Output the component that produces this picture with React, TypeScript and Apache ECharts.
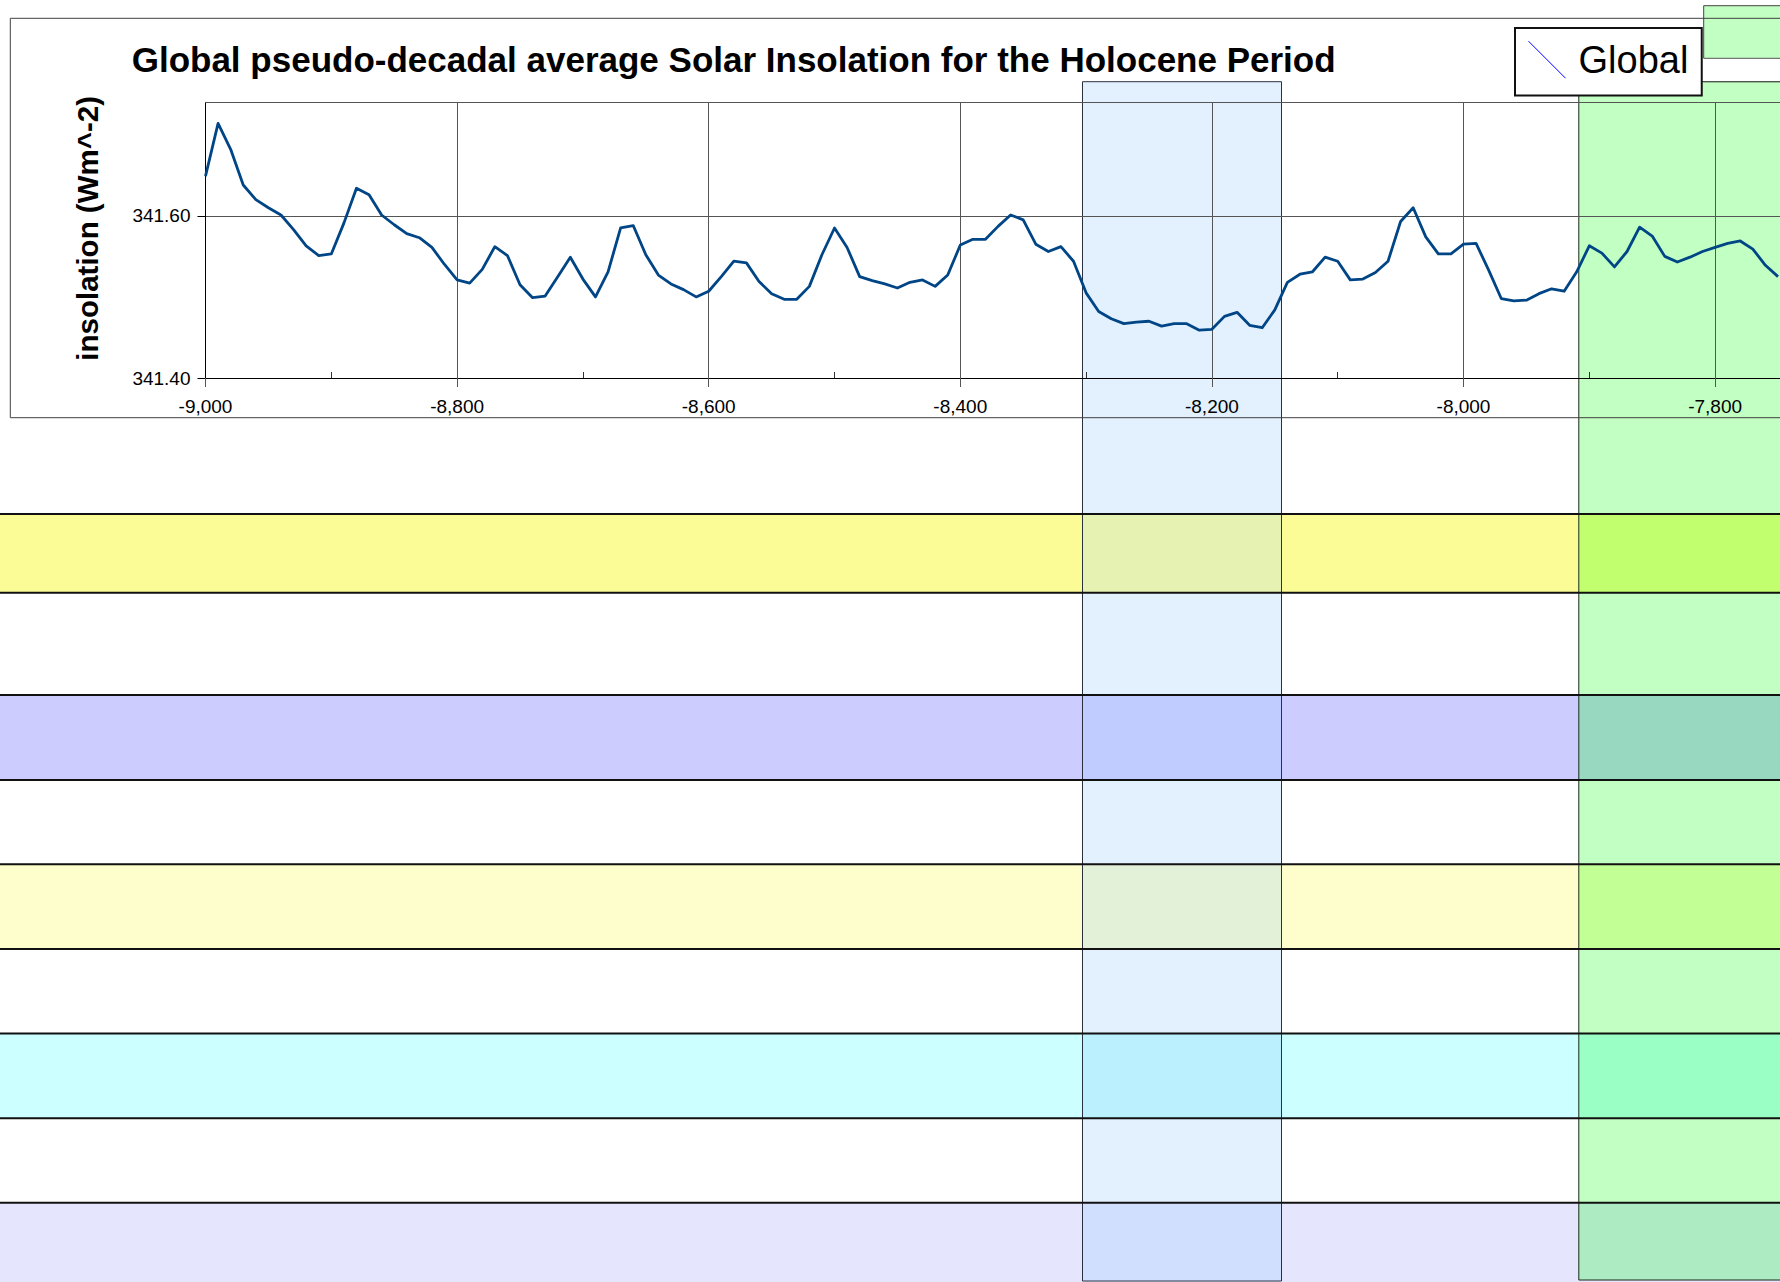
import React, { useEffect, useRef } from "react";
import * as echarts from "echarts";

// ---------- chart data ----------
const TITLE = "Global pseudo-decadal average Solar Insolation for the Holocene Period";
const Y_NAME = "insolation (Wm^-2)";
const SERIES_NAME = "Global";
const START_YEAR = -9000; // first sample (years)
const STEP_YEARS = 10; // pseudo-decadal sampling
const X_MIN = -9000;
const X_MAX = -7600;
const X_STEP = 200;
const X_MINOR_TICKS = [-8900, -8700, -8500, -8300, -8100, -7900, -7700];
const Y_MIN = 341.4;
const Y_MAX = 341.74;
const Y_STEP = 0.2;
const Y_TICKS = [341.4, 341.6];

const INSOLATION = [
  341.649, 341.714, 341.682, 341.638, 341.62, 341.61, 341.601, 341.583, 341.563, 341.551,
  341.553, 341.591, 341.634, 341.626, 341.601, 341.589, 341.578, 341.573, 341.561, 341.54,
  341.521, 341.517, 341.534, 341.562, 341.551, 341.515, 341.499, 341.501, 341.525, 341.549,
  341.522, 341.5, 341.531, 341.585, 341.588, 341.552, 341.527, 341.516, 341.509, 341.5,
  341.507, 341.525, 341.544, 341.542, 341.519, 341.504, 341.497, 341.497, 341.513, 341.552,
  341.585, 341.561, 341.525, 341.52, 341.516, 341.511, 341.518, 341.521, 341.513, 341.527,
  341.564, 341.571, 341.571, 341.587, 341.601, 341.595, 341.565, 341.556, 341.562, 341.544,
  341.505, 341.482, 341.473, 341.467, 341.469, 341.47, 341.464, 341.467, 341.467, 341.459,
  341.46, 341.476, 341.481, 341.465, 341.462, 341.484, 341.518, 341.528, 341.531, 341.549,
  341.544, 341.521, 341.522, 341.53, 341.544, 341.593, 341.61, 341.574, 341.553, 341.553,
  341.565, 341.566, 341.533, 341.498, 341.495, 341.496, 341.504, 341.51, 341.507, 341.531,
  341.563, 341.554, 341.537, 341.556, 341.586, 341.575, 341.55, 341.543, 341.549, 341.556,
  341.561, 341.566, 341.569, 341.559, 341.539, 341.525,
];

// ---------- layout / styling (spreadsheet background) ----------
const FONT = "'Liberation Sans', Arial, Helvetica, sans-serif";
const PAGE_W = 1780;
const PAGE_H = 1282;
const CHART_W = 2000; // chart canvas is wider than the page; the page clips it like the reference
const LINE_COLOR = "#004586";
const GRID_COLOR = "#555";
const GRID_LEFT = 205.5;
const GRID_TOP = 102.3;
const GRID_W = 1761.2;
const GRID_H = 275.7;

const BLUE_COL = { x0: 1082.5, x1: 1281.5, y0: 81.7, y1: 1281, fill: "#E3F1FE" };
const GREEN_COL = { x0: 1578.8, x1: 1820, y0: 81.7, y1: 1280, fill: "#C2FFC2" };
const ROW_BANDS = [
  { y0: 514, y1: 592.7, fill: "#FCFC96", blue: "#E5F2B2", green: "#C2FF6E" },
  { y0: 695, y1: 780, fill: "#CCCCFF", blue: "#C0CCFF", green: "#98D8C0" },
  { y0: 864.2, y1: 949, fill: "#FEFECC", blue: "#E3F1D8", green: "#C2FF94" },
  { y0: 1033.5, y1: 1118.2, fill: "#CCFFFF", blue: "#BBF1FE", green: "#99FFC4" },
  { y0: 1202.8, y1: 1300, fill: "#E5E5FD", blue: "#D1DFFE", green: "#ADEBC2" },
];
const ROW_LINES = [514, 592.7, 695, 780, 864.2, 949, 1033.5, 1118.2, 1202.8];

function buildBackground(): any[] {
  const els: any[] = [];
  const R = PAGE_W + 60;
  const rect = (x0: number, y0: number, x1: number, y1: number, fill: string, z: number) => ({
    type: "rect",
    silent: true,
    z,
    shape: { x: x0, y: y0, width: x1 - x0, height: y1 - y0 },
    style: { fill },
  });
  const line = (x1: number, y1: number, x2: number, y2: number, stroke: string, w: number, z: number) => ({
    type: "line",
    silent: true,
    z,
    shape: { x1, y1, x2, y2 },
    style: { stroke, lineWidth: w },
  });
  // row fills
  ROW_BANDS.forEach((r) => els.push(rect(0, r.y0, R, r.y1, r.fill, -30)));
  // columns
  els.push(rect(BLUE_COL.x0, BLUE_COL.y0, BLUE_COL.x1, BLUE_COL.y1, BLUE_COL.fill, -29));
  els.push(rect(GREEN_COL.x0, GREEN_COL.y0, GREEN_COL.x1, GREEN_COL.y1, GREEN_COL.fill, -29));
  ROW_BANDS.forEach((r) => {
    els.push(rect(BLUE_COL.x0, r.y0, BLUE_COL.x1, Math.min(r.y1, BLUE_COL.y1), r.blue, -28));
    els.push(rect(GREEN_COL.x0, r.y0, GREEN_COL.x1, Math.min(r.y1, GREEN_COL.y1), r.green, -28));
  });
  // top-right cell
  els.push(rect(1703.7, 5.7, R, 58.3, GREEN_COL.fill, -28));
  els.push(line(1703.7, 5.7, R, 5.7, "#444", 1, -25));
  els.push(line(1703.7, 5.7, 1703.7, 58.3, "#444", 1, -25));
  els.push(line(1703.7, 58.3, R, 58.3, "#555", 1, -25));
  els.push(line(1703.7, 81.7, R, 81.7, "#555", 1, -25));
  // column borders
  els.push({
    type: "rect",
    silent: true,
    z: -26,
    shape: { x: BLUE_COL.x0, y: BLUE_COL.y0, width: BLUE_COL.x1 - BLUE_COL.x0, height: BLUE_COL.y1 - BLUE_COL.y0 },
    style: { fill: "none", stroke: "#2a3040", lineWidth: 1 },
  });
  els.push({
    type: "rect",
    silent: true,
    z: -26,
    shape: { x: GREEN_COL.x0, y: GREEN_COL.y0, width: GREEN_COL.x1 - GREEN_COL.x0, height: GREEN_COL.y1 - GREEN_COL.y0 },
    style: { fill: "none", stroke: "#1a2a1a", lineWidth: 1 },
  });
  // row lines
  ROW_LINES.forEach((y) => els.push(line(0, y, R, y, "#111", 2, -24)));
  // chart frame (right side lies beyond the page)
  els.push(line(10.3, 18.3, R, 18.3, "#404040", 1, -20));
  els.push(line(10.3, 18.3, 10.3, 417.7, "#404040", 1, -20));
  els.push(line(10.3, 417.7, R, 417.7, "#404040", 1, -20));
  // y-axis title
  els.push({
    type: "text",
    silent: true,
    z: 10,
    x: 87,
    y: 228.3,
    rotation: Math.PI / 2,
    style: {
      text: Y_NAME,
      fill: "#000",
      font: `bold 29.5px ${FONT}`,
      align: "center",
      verticalAlign: "middle",
    },
  });
  return els;
}

export default function App() {
  const ref = useRef<HTMLDivElement>(null);

  useEffect(() => {
    if (!ref.current) return;
    const chart = echarts.init(ref.current, undefined, { renderer: "svg" });
    const seriesData = INSOLATION.map((v, i) => [START_YEAR + i * STEP_YEARS, v]);
    const isYTick = (v: number) => Y_TICKS.some((t) => Math.abs(t - v) < 1e-6);

    chart.setOption({
      animation: false,
      backgroundColor: "transparent",
      textStyle: { fontFamily: FONT },
      title: {
        text: TITLE,
        left: 131.7,
        top: 42,
        padding: 0,
        textStyle: { fontSize: 35, fontWeight: "bold", color: "#000", fontFamily: FONT },
      },
      legend: {
        left: 1515,
        top: 28,
        orient: "horizontal",
        padding: [12.7, 13.4, 16.8, 13],
        backgroundColor: "#fff",
        borderColor: "#111",
        borderWidth: 2,
        borderRadius: 0,
        itemWidth: 39,
        itemHeight: 37,
        icon: "path://M0,0L40,40",
        itemStyle: { color: "transparent", borderColor: "#0000ff", borderWidth: 1 },
        textStyle: { fontSize: 38, color: "#000", fontFamily: FONT, lineHeight: 37, padding: [0, 0, 0, 7] },
        data: [SERIES_NAME],
        selectedMode: false,
      },
      grid: {
        left: GRID_LEFT,
        top: GRID_TOP,
        width: GRID_W,
        height: GRID_H,
        containLabel: false,
        outerBoundsMode: "none",
      },
      xAxis: [
        {
          type: "value",
          min: X_MIN,
          max: X_MAX,
          interval: X_STEP,
          position: "bottom",
          axisLine: { show: true, onZero: false, lineStyle: { color: "#000", width: 1 } },
          axisTick: { show: true, inside: false, length: 9, lineStyle: { color: GRID_COLOR, width: 1 } },
          axisLabel: {
            margin: 19,
            fontSize: 19,
            color: "#000",
            fontFamily: FONT,
            showMaxLabel: false,
            formatter: (v: number) => Number(v).toLocaleString("en-US"),
          },
          splitLine: { show: true, lineStyle: { color: GRID_COLOR, width: 1 } },
        },
        {
          type: "value",
          min: X_MIN,
          max: X_MAX,
          position: "bottom",
          axisLine: { show: false },
          axisLabel: { show: false },
          splitLine: { show: false },
          axisTick: {
            show: true,
            inside: true,
            length: 6,
            customValues: X_MINOR_TICKS,
            lineStyle: { color: "#333", width: 1 },
          },
        },
        {
          type: "value",
          min: X_MIN,
          max: X_MAX,
          position: "top",
          axisLine: { show: true, onZero: false, lineStyle: { color: GRID_COLOR, width: 1 } },
          axisLabel: { show: false },
          axisTick: { show: false },
          splitLine: { show: false },
        },
      ],
      yAxis: {
        type: "value",
        min: Y_MIN,
        max: Y_MAX,
        interval: Y_STEP,
        axisLine: { show: true, onZero: false, lineStyle: { color: "#000", width: 1 } },
        axisTick: { show: true, length: 8, customValues: Y_TICKS, lineStyle: { color: "#000" } },
        axisLabel: {
          margin: 15,
          fontSize: 19,
          color: "#000",
          fontFamily: FONT,
          customValues: Y_TICKS,
          formatter: (v: number) => (isYTick(v) ? Number(v).toFixed(2) : ""),
        },
        splitLine: { show: true, lineStyle: { color: GRID_COLOR, width: 1 } },
      },
      graphic: { elements: buildBackground() },
      series: [
        {
          type: "line",
          name: SERIES_NAME,
          xAxisIndex: 0,
          yAxisIndex: 0,
          data: seriesData,
          symbol: "none",
          showSymbol: false,
          z: 5,
          lineStyle: { color: LINE_COLOR, width: 2.8, join: "round" },
          itemStyle: { color: LINE_COLOR },
        },
      ],
    });
    return () => chart.dispose();
  }, []);

  return (
    <div
      style={{
        position: "fixed",
        left: 0,
        top: 0,
        width: PAGE_W,
        height: PAGE_H,
        overflow: "hidden",
        background: "#fff",
      }}
    >
      <div ref={ref} style={{ width: CHART_W, height: PAGE_H }} />
    </div>
  );
}
